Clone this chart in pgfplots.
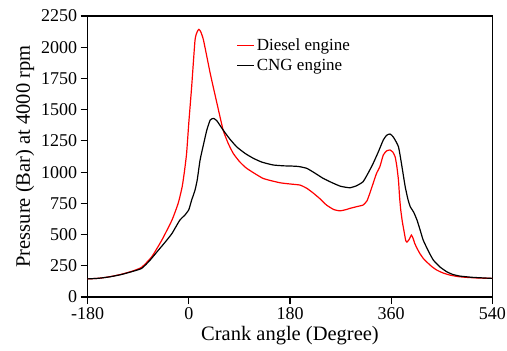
\documentclass[border=0pt]{standalone}
\usepackage{fontspec}
\setmainfont{Liberation Serif}
\usepackage{pgfplots}
\pgfplotsset{compat=1.18}
\begin{document}
\begin{tikzpicture}
\begin{axis}[
 scale only axis, width=404.6pt, height=281pt,
 xmin=-180, xmax=540, ymin=0, ymax=2250,
 xtick={-180,0,180,360,540}, ytick={0,250,...,2250},
 tick align=outside, xtick pos=left, ytick pos=left,
 major tick length=7pt,
 tick style={line width=1.2pt, black},
 axis line style={line width=1.2pt},
 /pgf/number format/assume math mode=true,
 /pgf/number format/1000 sep={},
 ticklabel style={font=\fontsize{18}{20}\selectfont},
 xlabel={Crank angle (Degree)}, ylabel={Pressure (Bar) at 4000 rpm},
 label style={font=\fontsize{20.5}{23}\selectfont},
 legend style={draw=none, fill=none, at={(0.36,0.935)}, anchor=north west, font=\fontsize{17}{20}\selectfont, row sep=3pt},
 legend cell align=left,
 legend image code/.code={\draw[#1] (0cm,0cm) -- (0.6cm,0cm);},
]
\coordinate (sw) at (rel axis cs:0,0);
\coordinate (ne) at (rel axis cs:1,1);
\addplot[red, line width=1.2pt, smooth, tension=0.3] coordinates {
(-180,145) (-160,150) (-140,163) (-120,182) (-100,208) (-84,238) (-66,322)
(-48,456) (-30,616) (-19,750) (-12,880) (-8,1000) (-4,1150) (0,1400)
(5,1684) (11,2058) (15,2125) (18,2143) (21,2125) (26,2058) (38,1791)
(50,1551) (61,1337) (70,1230) (79,1150) (90,1085) (103,1030) (132,950) (162,915) (180,905)
(198,896) (210,870) (222,830) (235,780) (245,736) (258,700) (269,690)
(280,700) (287,710) (300,725) (310,736) (317,770) (322,830) (328,910)
(334,990) (340,1044) (346,1137) (352,1170) (358,1177) (363,1160) (367,1124)
(370,1050) (373,936) (375,800) (377,700) (380,600) (382,550) (386,450)
(388,440) (392,460) (396,496) (399,470) (402,429) (406,390) (411,349)
(417,310) (423,282) (432,245) (441,216) (452,193) (465,175) (480,163)
(495,157) (515,152) (540,149)
};
\addlegendentry{Diesel engine}
\addplot[black, line width=1.2pt, smooth, tension=0.3] coordinates {
(-180,145) (-160,150) (-140,162) (-120,180) (-100,205) (-84,229) (-70,290)
(-54,376) (-42,440) (-30,509) (-16,616) (-7,656) (0,700) (5,776) (11,856)
(15,940) (20,1097) (26,1220) (32,1337) (38,1417) (44,1430) (50,1410)
(61,1337) (72,1270) (85,1203) (100,1150) (115,1110) (130,1080) (150,1057)
(170,1050) (180,1049) (195,1045) (210,1030) (225,990) (239,950) (255,915)
(269,888) (280,878) (287,875) (298,890) (310,923) (320,1000) (328,1070)
(337,1160) (346,1257) (352,1295) (358,1305) (364,1280) (373,1203) (379,1050)
(385,883) (390,780) (394,723) (400,680) (406,616) (412,530) (417,456)
(426,370) (435,296) (447,240) (459,202) (470,180) (483,167) (506,157)
(540,149)
};
\addlegendentry{CNG engine}
\end{axis}
\pgfresetboundingbox
\path ([xshift=-87.7pt,yshift=-53pt]sw) rectangle ([xshift=14.7pt,yshift=16pt]ne);
\end{tikzpicture}
\end{document}
